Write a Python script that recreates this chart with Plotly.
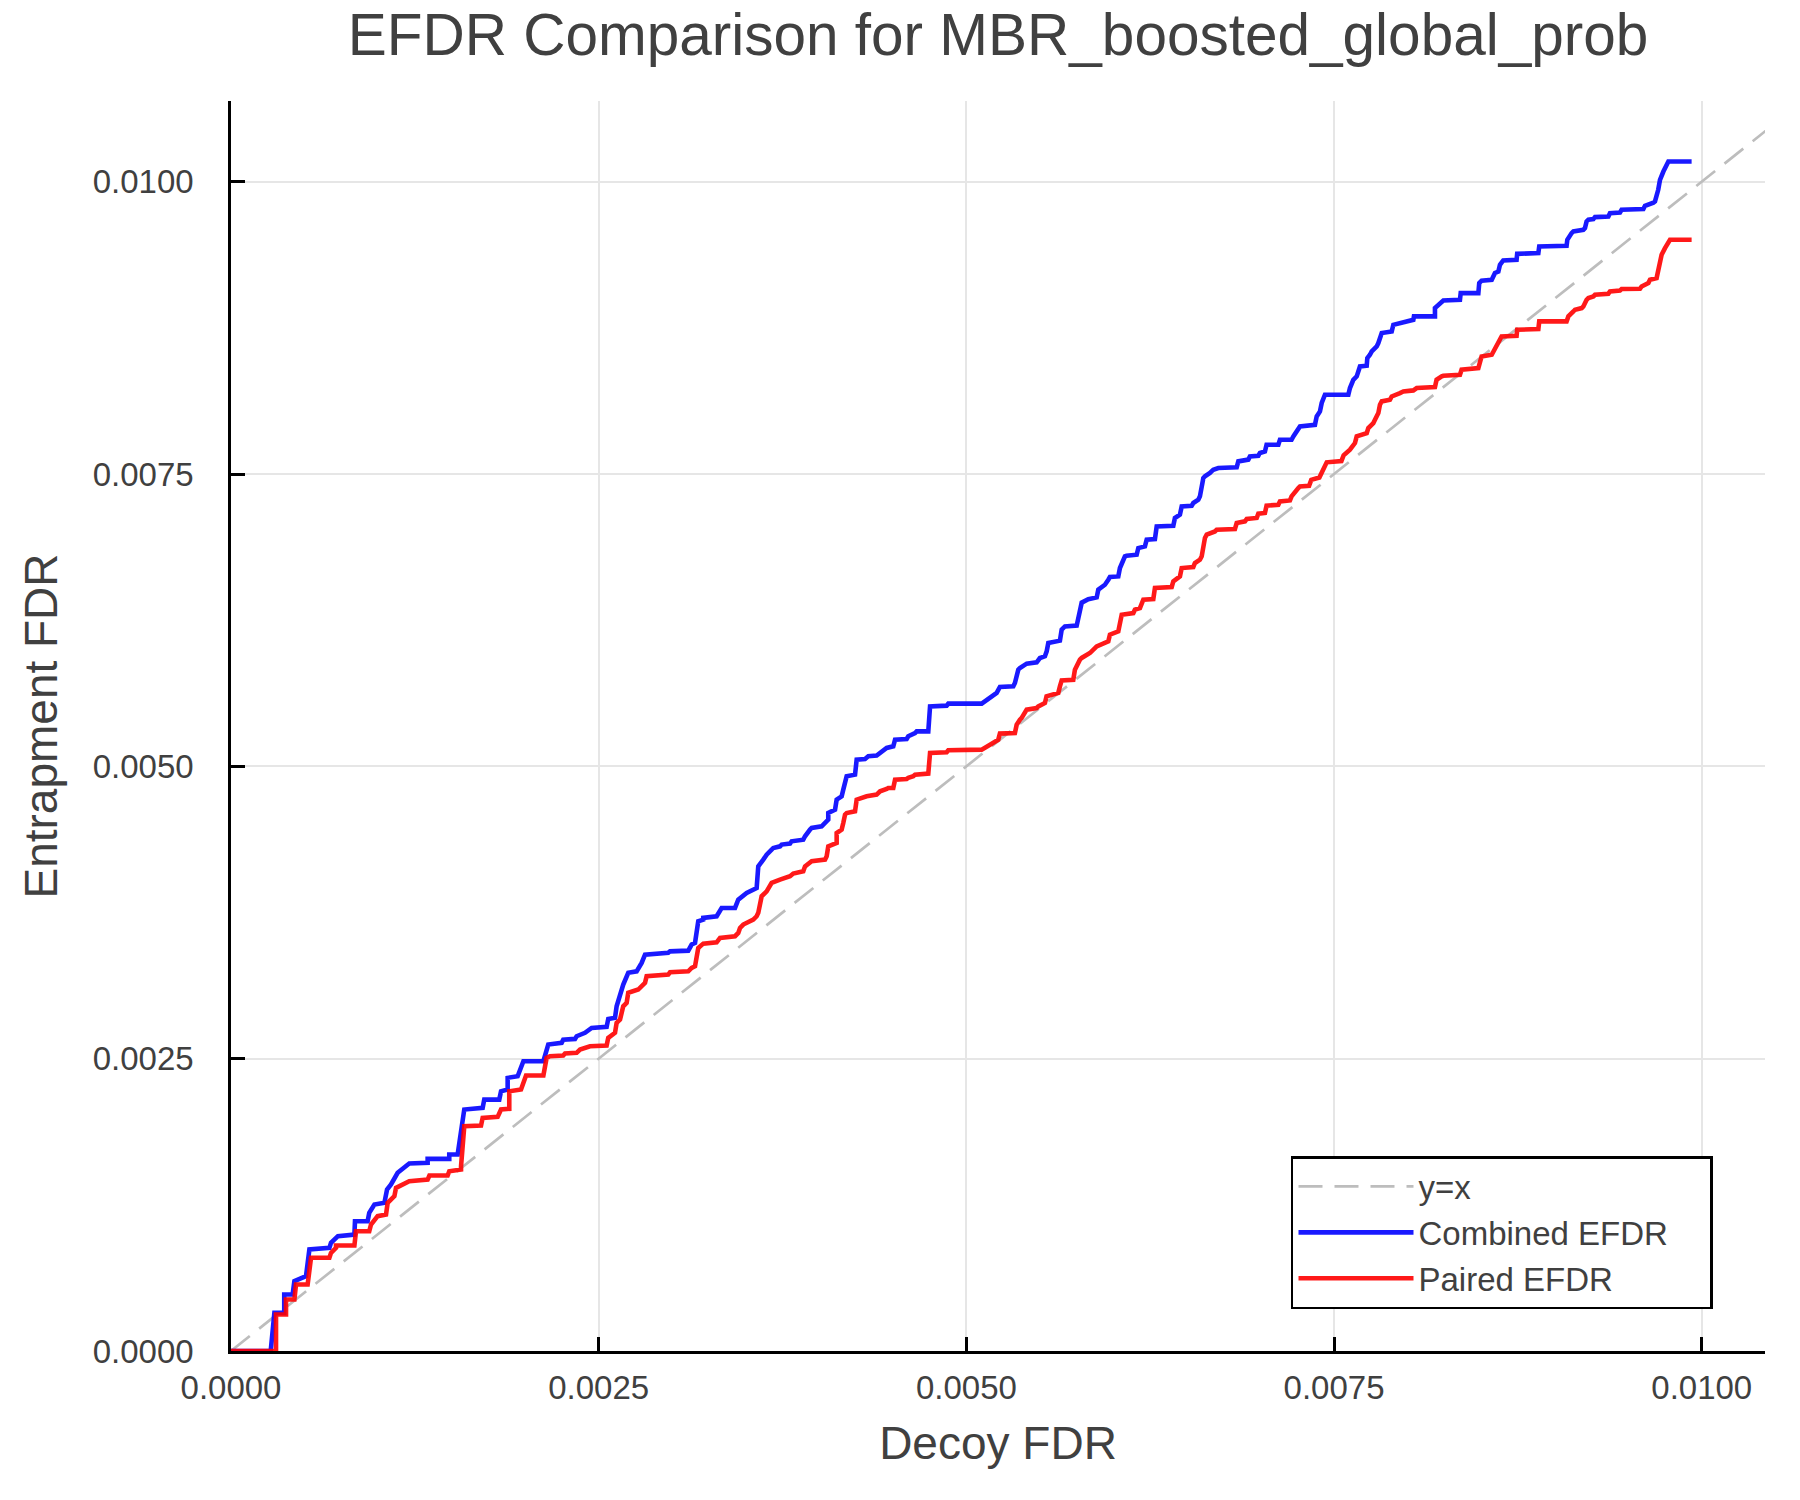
import plotly.graph_objects as go

# ---- data (values in units of 1e-3) ----
combined_points_milli = [
    (0.000, 0.000), (0.270, 0.000), (0.295, 0.326), (0.362, 0.326), (0.362, 0.483), (0.419, 0.483),
    (0.431, 0.597), (0.510, 0.640), (0.533, 0.868), (0.669, 0.882), (0.680, 0.925), (0.727, 0.982),
    (0.839, 0.996), (0.843, 1.110), (0.929, 1.110), (0.940, 1.181), (0.975, 1.253), (1.043, 1.267),
    (1.061, 1.381), (1.088, 1.424), (1.133, 1.524), (1.212, 1.603), (1.337, 1.609), (1.337, 1.643),
    (1.484, 1.643), (1.484, 1.680), (1.541, 1.680), (1.586, 2.065), (1.711, 2.079), (1.722, 2.150),
    (1.824, 2.150), (1.836, 2.221), (1.881, 2.236), (1.881, 2.336), (1.949, 2.350), (1.988, 2.478),
    (2.124, 2.478), (2.157, 2.621), (2.248, 2.635), (2.259, 2.663), (2.339, 2.669), (2.350, 2.692),
    (2.407, 2.721), (2.418, 2.734), (2.452, 2.763), (2.554, 2.772), (2.565, 2.840), (2.611, 2.849),
    (2.622, 2.948), (2.667, 3.134), (2.701, 3.234), (2.758, 3.247), (2.792, 3.319), (2.815, 3.390),
    (2.973, 3.405), (2.985, 3.418), (3.109, 3.424), (3.132, 3.476), (3.155, 3.490), (3.177, 3.675),
    (3.211, 3.689), (3.211, 3.704), (3.302, 3.718), (3.336, 3.789), (3.427, 3.789), (3.449, 3.860),
    (3.495, 3.903), (3.506, 3.917), (3.574, 3.960), (3.585, 4.145), (3.619, 4.202), (3.642, 4.245),
    (3.676, 4.288), (3.687, 4.302), (3.733, 4.316), (3.744, 4.331), (3.801, 4.339), (3.812, 4.359),
    (3.891, 4.373), (3.903, 4.402), (3.937, 4.459), (3.948, 4.473), (4.016, 4.487), (4.027, 4.502),
    (4.061, 4.544), (4.061, 4.601), (4.107, 4.630), (4.118, 4.715), (4.152, 4.744), (4.163, 4.801),
    (4.175, 4.886), (4.186, 4.915), (4.243, 4.929), (4.254, 5.057), (4.311, 5.063), (4.333, 5.086),
    (4.390, 5.092), (4.413, 5.115), (4.447, 5.143), (4.458, 5.157), (4.503, 5.171), (4.515, 5.228),
    (4.594, 5.234), (4.605, 5.257), (4.651, 5.285), (4.662, 5.299), (4.741, 5.299), (4.753, 5.513),
    (4.866, 5.519), (4.877, 5.536), (5.104, 5.536), (5.126, 5.556), (5.160, 5.585), (5.172, 5.604),
    (5.206, 5.628), (5.228, 5.679), (5.319, 5.684), (5.330, 5.713), (5.353, 5.827), (5.364, 5.841),
    (5.410, 5.878), (5.478, 5.889), (5.500, 5.926), (5.534, 5.941), (5.546, 5.983), (5.557, 6.055),
    (5.636, 6.075), (5.648, 6.169), (5.670, 6.197), (5.750, 6.203), (5.761, 6.283), (5.784, 6.400),
    (5.829, 6.430), (5.886, 6.445), (5.897, 6.511), (5.931, 6.539), (5.942, 6.553), (5.965, 6.596),
    (5.976, 6.619), (6.033, 6.624), (6.044, 6.696), (6.078, 6.796), (6.089, 6.801), (6.158, 6.810),
    (6.169, 6.867), (6.214, 6.881), (6.226, 6.938), (6.282, 6.944), (6.294, 7.052), (6.407, 7.058),
    (6.418, 7.124), (6.452, 7.152), (6.464, 7.223), (6.532, 7.229), (6.543, 7.252), (6.577, 7.280),
    (6.588, 7.309), (6.611, 7.466), (6.622, 7.480), (6.656, 7.509), (6.679, 7.537), (6.713, 7.551),
    (6.838, 7.557), (6.849, 7.608), (6.917, 7.623), (6.928, 7.651), (6.985, 7.656), (6.996, 7.680),
    (7.030, 7.693), (7.041, 7.750), (7.121, 7.750), (7.132, 7.793), (7.211, 7.793), (7.223, 7.821),
    (7.257, 7.893), (7.268, 7.907), (7.370, 7.921), (7.382, 7.993), (7.404, 8.035), (7.416, 8.107),
    (7.438, 8.178), (7.597, 8.178), (7.608, 8.235), (7.631, 8.306), (7.654, 8.335), (7.676, 8.420),
    (7.722, 8.426), (7.726, 8.492), (7.744, 8.520), (7.756, 8.548), (7.790, 8.591), (7.801, 8.620),
    (7.824, 8.706), (7.892, 8.719), (7.903, 8.776), (7.948, 8.791), (7.971, 8.805), (8.039, 8.819),
    (8.043, 8.848), (8.186, 8.848), (8.186, 8.919), (8.243, 8.984), (8.356, 8.990), (8.361, 9.047),
    (8.481, 9.047), (8.487, 9.133), (8.503, 9.153), (8.572, 9.161), (8.594, 9.219), (8.617, 9.232),
    (8.628, 9.289), (8.650, 9.326), (8.741, 9.332), (8.745, 9.383), (8.889, 9.389), (8.895, 9.446),
    (9.081, 9.452), (9.086, 9.503), (9.115, 9.560), (9.127, 9.575), (9.195, 9.589), (9.206, 9.603),
    (9.217, 9.660), (9.229, 9.674), (9.263, 9.680), (9.274, 9.697), (9.365, 9.702), (9.376, 9.731),
    (9.444, 9.737), (9.455, 9.760), (9.603, 9.766), (9.614, 9.794), (9.671, 9.820), (9.682, 9.831),
    (9.704, 9.931), (9.716, 10.016), (9.739, 10.087), (9.750, 10.116), (9.773, 10.173), (9.931, 10.173),
]

paired_points_milli = [
    (0.000, 0.000), (0.306, 0.000), (0.306, 0.312), (0.374, 0.312), (0.374, 0.440), (0.431, 0.440),
    (0.442, 0.569), (0.521, 0.569), (0.544, 0.797), (0.669, 0.797), (0.680, 0.839), (0.714, 0.882),
    (0.714, 0.902), (0.839, 0.902), (0.850, 1.024), (0.940, 1.024), (0.952, 1.082), (0.997, 1.153),
    (1.054, 1.167), (1.065, 1.267), (1.111, 1.324), (1.122, 1.395), (1.212, 1.452), (1.337, 1.466),
    (1.349, 1.501), (1.473, 1.501), (1.484, 1.537), (1.564, 1.552), (1.564, 1.580), (1.586, 1.922),
    (1.700, 1.928), (1.711, 1.994), (1.813, 2.002), (1.836, 2.065), (1.892, 2.071), (1.892, 2.221),
    (1.972, 2.236), (2.006, 2.356), (2.124, 2.356), (2.146, 2.507), (2.169, 2.521), (2.259, 2.527),
    (2.271, 2.544), (2.350, 2.550), (2.373, 2.578), (2.418, 2.592), (2.441, 2.606), (2.554, 2.612),
    (2.565, 2.678), (2.611, 2.721), (2.622, 2.806), (2.645, 2.834), (2.667, 2.948), (2.690, 2.977),
    (2.701, 3.063), (2.769, 3.091), (2.781, 3.105), (2.815, 3.148), (2.826, 3.205), (2.973, 3.219),
    (2.985, 3.239), (3.109, 3.247), (3.132, 3.276), (3.155, 3.290), (3.177, 3.447), (3.200, 3.476),
    (3.211, 3.484), (3.302, 3.495), (3.325, 3.533), (3.427, 3.547), (3.449, 3.575), (3.461, 3.618),
    (3.483, 3.647), (3.551, 3.689), (3.574, 3.718), (3.585, 3.747), (3.608, 3.889), (3.642, 3.931),
    (3.676, 4.003), (3.733, 4.031), (3.801, 4.060), (3.823, 4.083), (3.891, 4.103), (3.903, 4.145),
    (3.948, 4.188), (4.039, 4.202), (4.050, 4.231), (4.061, 4.316), (4.118, 4.345), (4.118, 4.430),
    (4.152, 4.459), (4.163, 4.516), (4.175, 4.587), (4.186, 4.601), (4.243, 4.615), (4.254, 4.715),
    (4.311, 4.738), (4.322, 4.744), (4.390, 4.758), (4.413, 4.786), (4.458, 4.807), (4.469, 4.815),
    (4.503, 4.815), (4.515, 4.886), (4.594, 4.892), (4.605, 4.901), (4.639, 4.915), (4.651, 4.929),
    (4.741, 4.938), (4.753, 5.115), (4.866, 5.120), (4.877, 5.137), (5.104, 5.143), (5.126, 5.157),
    (5.160, 5.177), (5.172, 5.194), (5.217, 5.228), (5.228, 5.280), (5.330, 5.285), (5.342, 5.356),
    (5.364, 5.399), (5.376, 5.414), (5.410, 5.485), (5.478, 5.499), (5.489, 5.513), (5.523, 5.528),
    (5.534, 5.542), (5.545, 5.598), (5.625, 5.628), (5.636, 5.684), (5.648, 5.735), (5.727, 5.741),
    (5.738, 5.827), (5.772, 5.912), (5.784, 5.927), (5.840, 5.969), (5.852, 5.983), (5.886, 6.026),
    (5.965, 6.069), (5.976, 6.126), (6.033, 6.154), (6.044, 6.211), (6.056, 6.297), (6.135, 6.311),
    (6.146, 6.340), (6.180, 6.354), (6.203, 6.425), (6.271, 6.431), (6.282, 6.525), (6.396, 6.534),
    (6.407, 6.582), (6.452, 6.624), (6.464, 6.696), (6.543, 6.705), (6.554, 6.739), (6.588, 6.767),
    (6.600, 6.796), (6.622, 6.953), (6.634, 6.981), (6.690, 7.009), (6.702, 7.024), (6.826, 7.030),
    (6.838, 7.081), (6.894, 7.095), (6.906, 7.115), (6.974, 7.124), (6.985, 7.161), (7.030, 7.167),
    (7.041, 7.229), (7.121, 7.237), (7.132, 7.266), (7.200, 7.274), (7.211, 7.309), (7.257, 7.380),
    (7.268, 7.394), (7.330, 7.400), (7.345, 7.450), (7.400, 7.470), (7.420, 7.520), (7.450, 7.600),
    (7.550, 7.610), (7.565, 7.660), (7.608, 7.708), (7.642, 7.765), (7.654, 7.822), (7.722, 7.850),
    (7.733, 7.893), (7.767, 7.936), (7.778, 7.964), (7.801, 8.021), (7.812, 8.093), (7.824, 8.121),
    (7.880, 8.135), (7.892, 8.163), (7.948, 8.192), (7.971, 8.206), (8.039, 8.215), (8.051, 8.221),
    (8.062, 8.235), (8.186, 8.244), (8.197, 8.306), (8.232, 8.335), (8.243, 8.340), (8.356, 8.349),
    (8.367, 8.392), (8.481, 8.406), (8.492, 8.477), (8.503, 8.505), (8.572, 8.520), (8.594, 8.577),
    (8.628, 8.648), (8.639, 8.677), (8.741, 8.683), (8.745, 8.734), (8.889, 8.740), (8.895, 8.805),
    (9.081, 8.805), (9.093, 8.848), (9.127, 8.890), (9.138, 8.905), (9.184, 8.919), (9.195, 8.933),
    (9.217, 8.990), (9.229, 9.005), (9.263, 9.019), (9.274, 9.033), (9.365, 9.042), (9.376, 9.061),
    (9.444, 9.070), (9.455, 9.082), (9.580, 9.084), (9.591, 9.104), (9.637, 9.133), (9.648, 9.161),
    (9.693, 9.176), (9.704, 9.232), (9.716, 9.318), (9.727, 9.375), (9.750, 9.432), (9.762, 9.461),
    (9.784, 9.503), (9.931, 9.503),
]

identity_line = [0.0, 0.0110]
tick_values = [0.0, 0.0025, 0.0050, 0.0075, 0.0100]
tick_labels = ["0.0000", "0.0025", "0.0050", "0.0075", "0.0100"]
series_names = ["y=x", "Combined EFDR", "Paired EFDR"]

SCALE = 1e-3
combined_x = [p[0] * SCALE for p in combined_points_milli]
combined_y = [p[1] * SCALE for p in combined_points_milli]
paired_x = [p[0] * SCALE for p in paired_points_milli]
paired_y = [p[1] * SCALE for p in paired_points_milli]

FONT = "Liberation Sans, Arial, Helvetica, sans-serif"
TXT = "#404040"
W, H = 1800, 1500
PAD = "\u00a0" * 4  # extra right padding inside the legend box

fig = go.Figure()
fig.add_trace(go.Scatter(x=identity_line, y=identity_line, mode="lines", name=series_names[0],
                         line=dict(color="#bdbdbd", width=2.7, dash="24px,12px")))
fig.add_trace(go.Scatter(x=combined_x, y=combined_y, mode="lines", name=series_names[1] + PAD,
                         line=dict(color="rgba(0,0,255,0.9)", width=4.6)))
fig.add_trace(go.Scatter(x=paired_x, y=paired_y, mode="lines", name=series_names[2],
                         line=dict(color="rgba(255,0,0,0.9)", width=4.6)))

axis_common = dict(
    tickvals=tick_values, ticktext=tick_labels,
    ticks="inside", ticklen=14, tickwidth=2.5, tickcolor="black",
    showline=True, linecolor="black", linewidth=2.5, mirror=False,
    showgrid=True, gridcolor="#e6e6e6", gridwidth=1.5, zeroline=False,
    tickfont=dict(family=FONT, size=33, color=TXT),
)

fig.update_layout(
    width=W, height=H,
    margin=dict(l=231, r=35, t=101, b=149),
    paper_bgcolor="white", plot_bgcolor="white",
    font=dict(family=FONT, color=TXT),
    title=dict(text="EFDR Comparison for MBR_boosted_global_prob", x=0.5, xref="paper",
               xanchor="center", y=1 - 35 / H, yref="container", yanchor="middle",
               font=dict(family=FONT, size=58.5, color=TXT)),
    xaxis=dict(range=[0, 0.01043], title=dict(text="Decoy FDR", standoff=22,
               font=dict(family=FONT, size=46, color=TXT)), ticklabelstandoff=6, **axis_common),
    yaxis=dict(range=[0, 0.01069], title=dict(text="Entrapment FDR", standoff=21,
               font=dict(family=FONT, size=46, color=TXT)), ticklabelstandoff=28, **axis_common),
    legend=dict(x=0.9661, xanchor="right", y=0.0336, yanchor="bottom",
                bordercolor="black", borderwidth=2.5, bgcolor="white",
                font=dict(family=FONT, size=33, color=TXT), itemwidth=115,
                tracegroupgap=0),
    showlegend=True,
    hovermode=False,
)

# remove the page's default 8px body margin so the figure sits at the window origin
fig.write_html("out.html", config={"displayModeBar": False},
               post_script="document.body.style.margin='0px';")
